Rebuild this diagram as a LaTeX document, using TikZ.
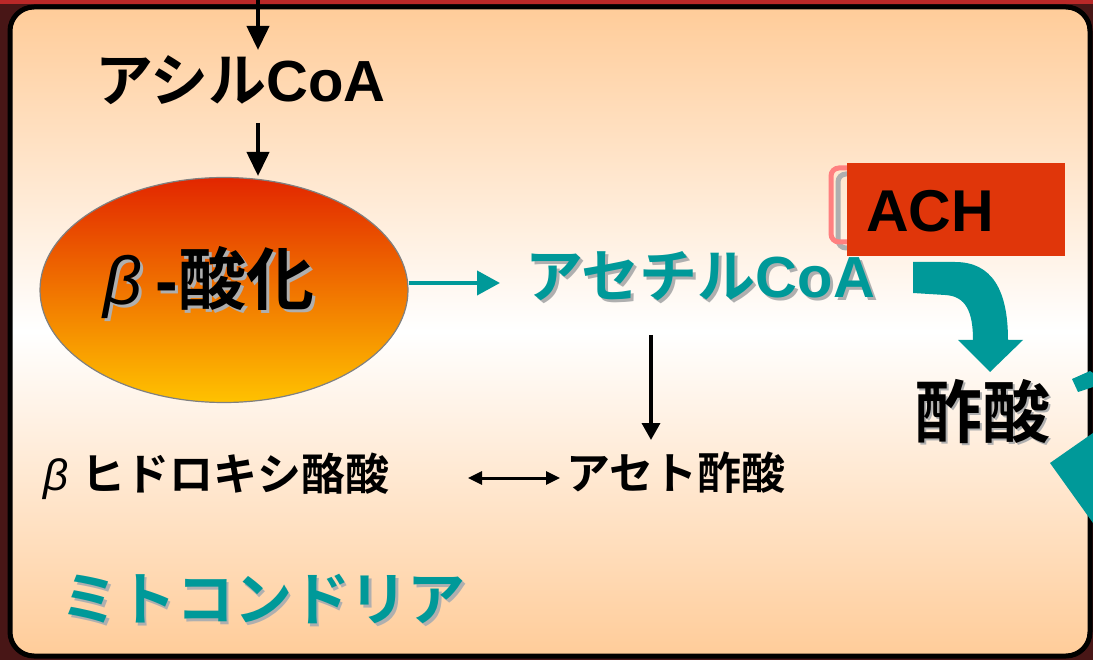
\documentclass[tikz,border=0pt]{standalone}
\usepackage{fontspec}
\newfontfamily\jp{Noto Sans CJK JP}[BoldFont={Noto Sans CJK JP Bold}]
\newfontfamily\ar{Liberation Sans}
\usetikzlibrary{arrows.meta,shapes.geometric}
\definecolor{peach}{RGB}{255,204,153}
\definecolor{tealc}{RGB}{0,153,153}
\definecolor{bgdark}{RGB}{72,22,22}
\definecolor{topred}{RGB}{185,40,40}
\definecolor{achred}{RGB}{224,54,10}
\definecolor{ellred}{RGB}{226,38,0}
\definecolor{ellyel}{RGB}{255,194,0}
\definecolor{shgray}{RGB}{175,175,175}
\definecolor{pinkc}{RGB}{255,128,128}
\begin{document}
\begin{tikzpicture}[x=1pt,y=-1pt,
  txt/.style={inner sep=0pt,outer sep=0pt,anchor=base west},
  big/.style={txt,font=\fontsize{58}{60}\selectfont\bfseries},
  mid/.style={txt,font=\fontsize{44}{46}\selectfont\bfseries},
  huge/.style={txt,font=\fontsize{68}{70}\selectfont\bfseries},
  blkarrow/.style={draw=black,line width=4pt,-{Triangle[width=22pt,length=24pt]}},
  thinarrow/.style={draw=black,line width=3.5pt,-{Triangle[width=18pt,length=17pt]}},
  dblarrow/.style={draw=black,line width=3pt,{Triangle[width=13pt,length=14pt]}-{Triangle[width=13pt,length=14pt]}},
  tealarrow/.style={draw=tealc,line width=4pt,-{Triangle[width=24pt,length=23pt]}}
]
\useasboundingbox (0,0) rectangle (1093,660);
% background
\fill[bgdark] (0,0) rectangle (1093,660);
\fill[topred] (0,0) rectangle (1093,4);
% mitochondria box
\draw[line width=5pt,rounded corners=24pt,top color=peach,bottom color=peach,middle color=white] (10,7) rectangle (1090,656);

% texts
\node[big] (acyl) at (95,102) {\jp アシル\ar CoA};
\coordinate (topin) at (258,0);
\coordinate (topend) at (258,50);
\coordinate (acylbot) at (258,123);
\coordinate (ellin) at (258,176);

\node[ellipse,draw=gray,line width=1.2pt,top color=ellred,bottom color=ellyel,minimum width=368pt,minimum height=225pt,inner sep=0pt] (beta) at (224,290) {};
\node[huge,text=shgray] (betatxs) at (106,308) {{\ar\mdseries\itshape β}\hspace{14pt}{\ar -}\jp 酸化};
\node[huge] (betatx) at (103,305) {{\ar\mdseries\itshape β}\hspace{14pt}{\ar -}\jp 酸化};

\node[big,text=shgray] (acets) at (528,301) {\jp アセチル\ar CoA};
\node[big,text=tealc] (acet) at (525,298) {\jp アセチル\ar CoA};

\node[mid] (hydroxy) at (43,490) {{\ar\mdseries\itshape β}\hspace{13pt}\jp ヒドロキシ酪酸};
\node[mid] (aceto) at (566,489) {\jp アセト酢酸};

\node[big,text=shgray] (mitos) at (63,623) {\jp ミトコンドリア};
\node[big,text=tealc] (mito) at (60,620) {\jp ミトコンドリア};

\node[huge,text=shgray] (sakus) at (916,439) {\jp 酢酸};
\node[huge] (saku) at (914,437) {\jp 酢酸};

% pink bracket behind ACH
\draw[shgray,line width=5pt,rounded corners=8pt] (838,174) rectangle (900,248);
\draw[pinkc,line width=5pt,rounded corners=8pt] (831,168) rectangle (893,242);
\node[fill=achred,minimum width=218pt,minimum height=93pt,inner sep=0pt] (achbox) at (956,209.5) {};
\node[txt,font=\fontsize{59}{60}\selectfont\ar\bfseries] (ach) at (866,232) {ACH};

% connectors
\draw[blkarrow] (topin) -- (topend);
\draw[blkarrow] (acylbot) -- (ellin);
\coordinate (tealend) at (500,283);
\draw[tealarrow] (beta.east |- tealend) -- (tealend);
\coordinate (dstart) at (651,335);
\coordinate (dend) at (651,440);
\draw[thinarrow] (dstart) -- (dend);
\coordinate (dl) at (468,478);
\coordinate (dr) at (560,478);
\draw[dblarrow] (dl) -- (dr);

% big curved teal arrow
\fill[tealc] (913,262) -- (955,262) .. controls (992,262) and (1008,290) .. (1008,340)
  -- (1023,340) -- (990,372) -- (958,340) -- (973,340)
  .. controls (973,312) and (966,296) .. (945,295) -- (913,293) -- cycle;
% cut-off teal shapes at the right edge
\fill[tealc] (1072,379) -- (1090,371) -- (1093,373) -- (1093,387) -- (1078,392) -- cycle;
\fill[tealc] (1050,463) -- (1093,433) -- (1093,523) -- cycle;
\end{tikzpicture}
\end{document}
